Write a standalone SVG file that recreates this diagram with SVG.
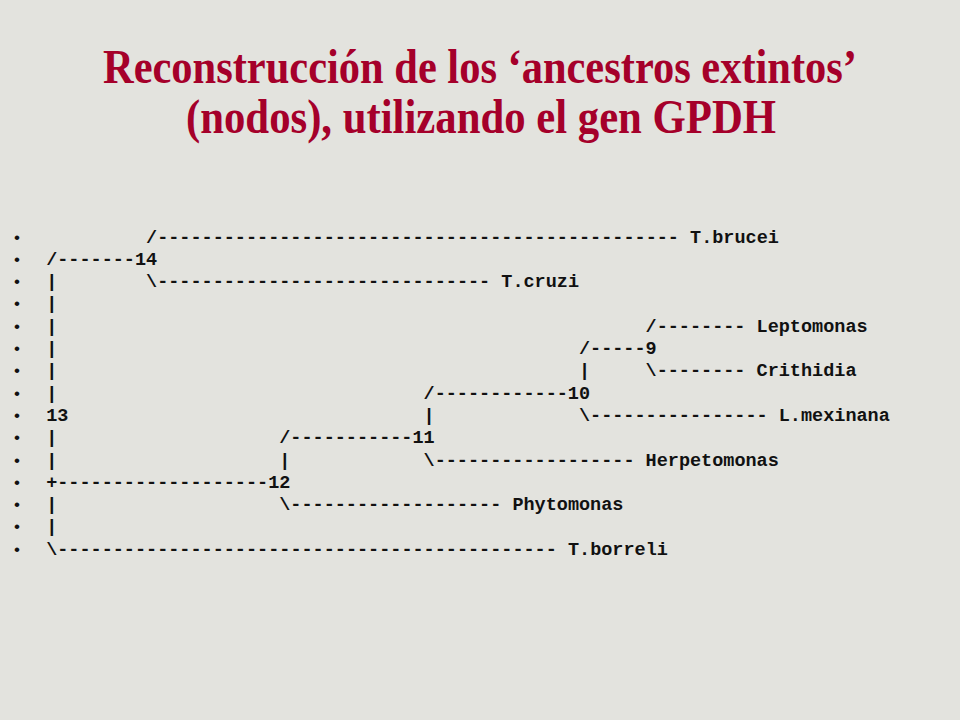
<svg xmlns="http://www.w3.org/2000/svg" width="960" height="720" viewBox="0 0 960 720">
<style>
.title{font-family:"Liberation Serif","Times New Roman",serif;font-weight:bold;font-size:48px;fill:#A5002A;text-anchor:middle}
.t{font-family:"Liberation Mono","Courier New",monospace;font-weight:bold;font-size:18.5px;fill:#111}
.b{font-family:"Liberation Sans",Arial,sans-serif;font-size:17px;fill:#111;text-anchor:middle}
</style>
<rect width="960" height="720" fill="#E3E3DE"/>
<g id="title">
<text class="title" x="480" y="83" textLength="754" lengthAdjust="spacingAndGlyphs">Reconstrucción de los ‘ancestros extintos’</text>
<text class="title" x="481" y="133" textLength="590" lengthAdjust="spacingAndGlyphs">(nodos), utilizando el gen GPDH</text>
</g>
<g id="bullets">
<text class="b" x="17" y="242.5">•</text>
<text class="b" x="17" y="264.8">•</text>
<text class="b" x="17" y="287.1">•</text>
<text class="b" x="17" y="309.4">•</text>
<text class="b" x="17" y="331.7">•</text>
<text class="b" x="17" y="354.0">•</text>
<text class="b" x="17" y="376.3">•</text>
<text class="b" x="17" y="398.6">•</text>
<text class="b" x="17" y="420.9">•</text>
<text class="b" x="17" y="443.2">•</text>
<text class="b" x="17" y="465.5">•</text>
<text class="b" x="17" y="487.8">•</text>
<text class="b" x="17" y="510.1">•</text>
<text class="b" x="17" y="532.4">•</text>
<text class="b" x="17" y="554.7">•</text>
</g>
<g id="tree">
<text class="t" y="242.5"><tspan x="146.05">/----------------------------------------------- T.brucei</tspan></text>
<text class="t" y="264.8"><tspan x="46.15">/-------14</tspan></text>
<text class="t" y="287.1"><tspan x="46.15">|</tspan><tspan x="146.05">\------------------------------ T.cruzi</tspan></text>
<text class="t" y="309.4"><tspan x="46.15">|</tspan></text>
<text class="t" y="331.7"><tspan x="46.15">|</tspan><tspan x="645.55">/-------- Leptomonas</tspan></text>
<text class="t" y="354.0"><tspan x="46.15">|</tspan><tspan x="578.95">/-----9</tspan></text>
<text class="t" y="376.3"><tspan x="46.15">|</tspan><tspan x="578.95">|</tspan><tspan x="645.55">\-------- Crithidia</tspan></text>
<text class="t" y="398.6"><tspan x="46.15">|</tspan><tspan x="423.55">/------------10</tspan></text>
<text class="t" y="420.9"><tspan x="46.15">13</tspan><tspan x="423.55">|</tspan><tspan x="578.95">\---------------- L.mexinana</tspan></text>
<text class="t" y="443.2"><tspan x="46.15">|</tspan><tspan x="279.25">/-----------11</tspan></text>
<text class="t" y="465.5"><tspan x="46.15">|</tspan><tspan x="279.25">|</tspan><tspan x="423.55">\------------------ Herpetomonas</tspan></text>
<text class="t" y="487.8"><tspan x="46.15">+-------------------12</tspan></text>
<text class="t" y="510.1"><tspan x="46.15">|</tspan><tspan x="279.25">\------------------- Phytomonas</tspan></text>
<text class="t" y="532.4"><tspan x="46.15">|</tspan></text>
<text class="t" y="554.7"><tspan x="46.15">\--------------------------------------------- T.borreli</tspan></text>
</g>
</svg>
